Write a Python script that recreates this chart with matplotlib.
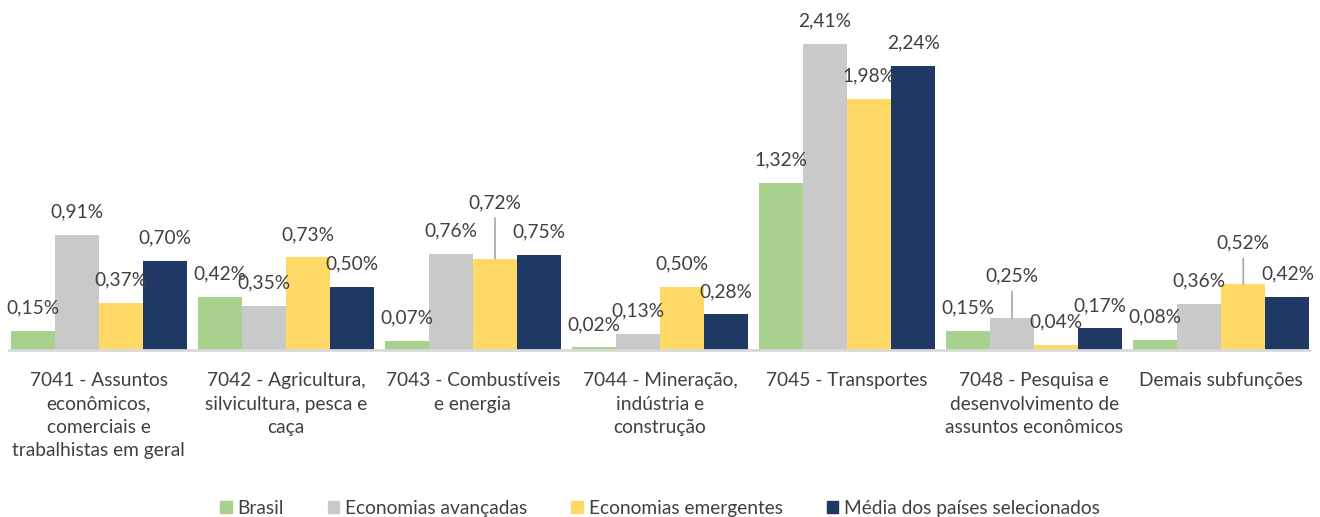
import matplotlib.pyplot as plt
from matplotlib.patches import Patch
import numpy as np

plt.rcParams['font.family'] = ['Lato', 'DejaVu Sans']

categorias = ['7041 - Assuntos\neconômicos,\ncomerciais e\ntrabalhistas em geral',
              '7042 - Agricultura,\nsilvicultura, pesca e\ncaça',
              '7043 - Combustíveis\ne energia',
              '7044 - Mineração,\nindústria e\nconstrução',
              '7045 - Transportes',
              '7048 - Pesquisa e\ndesenvolvimento de\nassuntos econômicos',
              'Demais subfunções']
series = ['Brasil', 'Economias avançadas', 'Economias emergentes', 'Média dos países selecionados']
brasil = [0.15, 0.42, 0.07, 0.02, 1.32, 0.15, 0.08]
avancadas = [0.91, 0.35, 0.76, 0.13, 2.41, 0.25, 0.36]
emergentes = [0.37, 0.73, 0.72, 0.50, 1.98, 0.04, 0.52]
media = [0.70, 0.50, 0.75, 0.28, 2.24, 0.17, 0.42]
valores = [brasil, avancadas, emergentes, media]
cores = ['#A9D18E', '#C9C9C9', '#FFD966', '#203864']

# labels pushed up with a leader line: (serie, grupo) -> extra lift in px
levantados = {(2, 2): 33, (1, 5): 19, (2, 6): 18}

fig = plt.figure(figsize=(13.2, 5.17), dpi=100)
ax = fig.add_axes([0.004, 0.323, 0.992, 0.638])

fs = 13.8
x = np.arange(len(categorias))
w = 0.236
txt = '#404040'
for s, vals in enumerate(valores):
    pos = x + (s - 1.5) * w
    ax.bar(pos, vals, width=w, color=cores[s], zorder=2)
    for g, v in enumerate(vals):
        lift = levantados.get((s, g), 0)
        dy = (23 + lift) * 0.72
        ax.annotate(f'{v:.2f}%'.replace('.', ','), (pos[g], v), xytext=(0, dy),
                    textcoords='offset points', ha='center', va='center',
                    fontsize=fs, color=txt)
        if lift:
            ax.annotate('', (pos[g], v), xytext=(0, dy - 11),
                        textcoords='offset points',
                        arrowprops=dict(arrowstyle='-', color='#A6A6A6', lw=1.2,
                                        shrinkA=0, shrinkB=0))

ax.set_xlim(-0.5, 6.5)
ax.set_ylim(0, 2.6)
ax.set_yticks([])
ax.set_xticks(x)
ax.set_xticklabels(categorias, fontsize=fs, color=txt, linespacing=1.45)
ax.tick_params(axis='x', length=0, pad=16)
for sp in ['top', 'right', 'left']:
    ax.spines[sp].set_visible(False)
ax.spines['bottom'].set_color('#D9D9D9')
ax.spines['bottom'].set_linewidth(2)
ax.spines['bottom'].set_bounds(-0.48, 6.47)

handles = [Patch(color=c) for c in cores]
fig.legend(handles, series, loc='center', bbox_to_anchor=(0.5, 0.017), ncol=4,
           frameon=False, fontsize=fs, labelcolor=txt, handlelength=0.6,
           handleheight=0.6, handletextpad=0.3, columnspacing=2.3)

fig.savefig('out.png', dpi=100)
